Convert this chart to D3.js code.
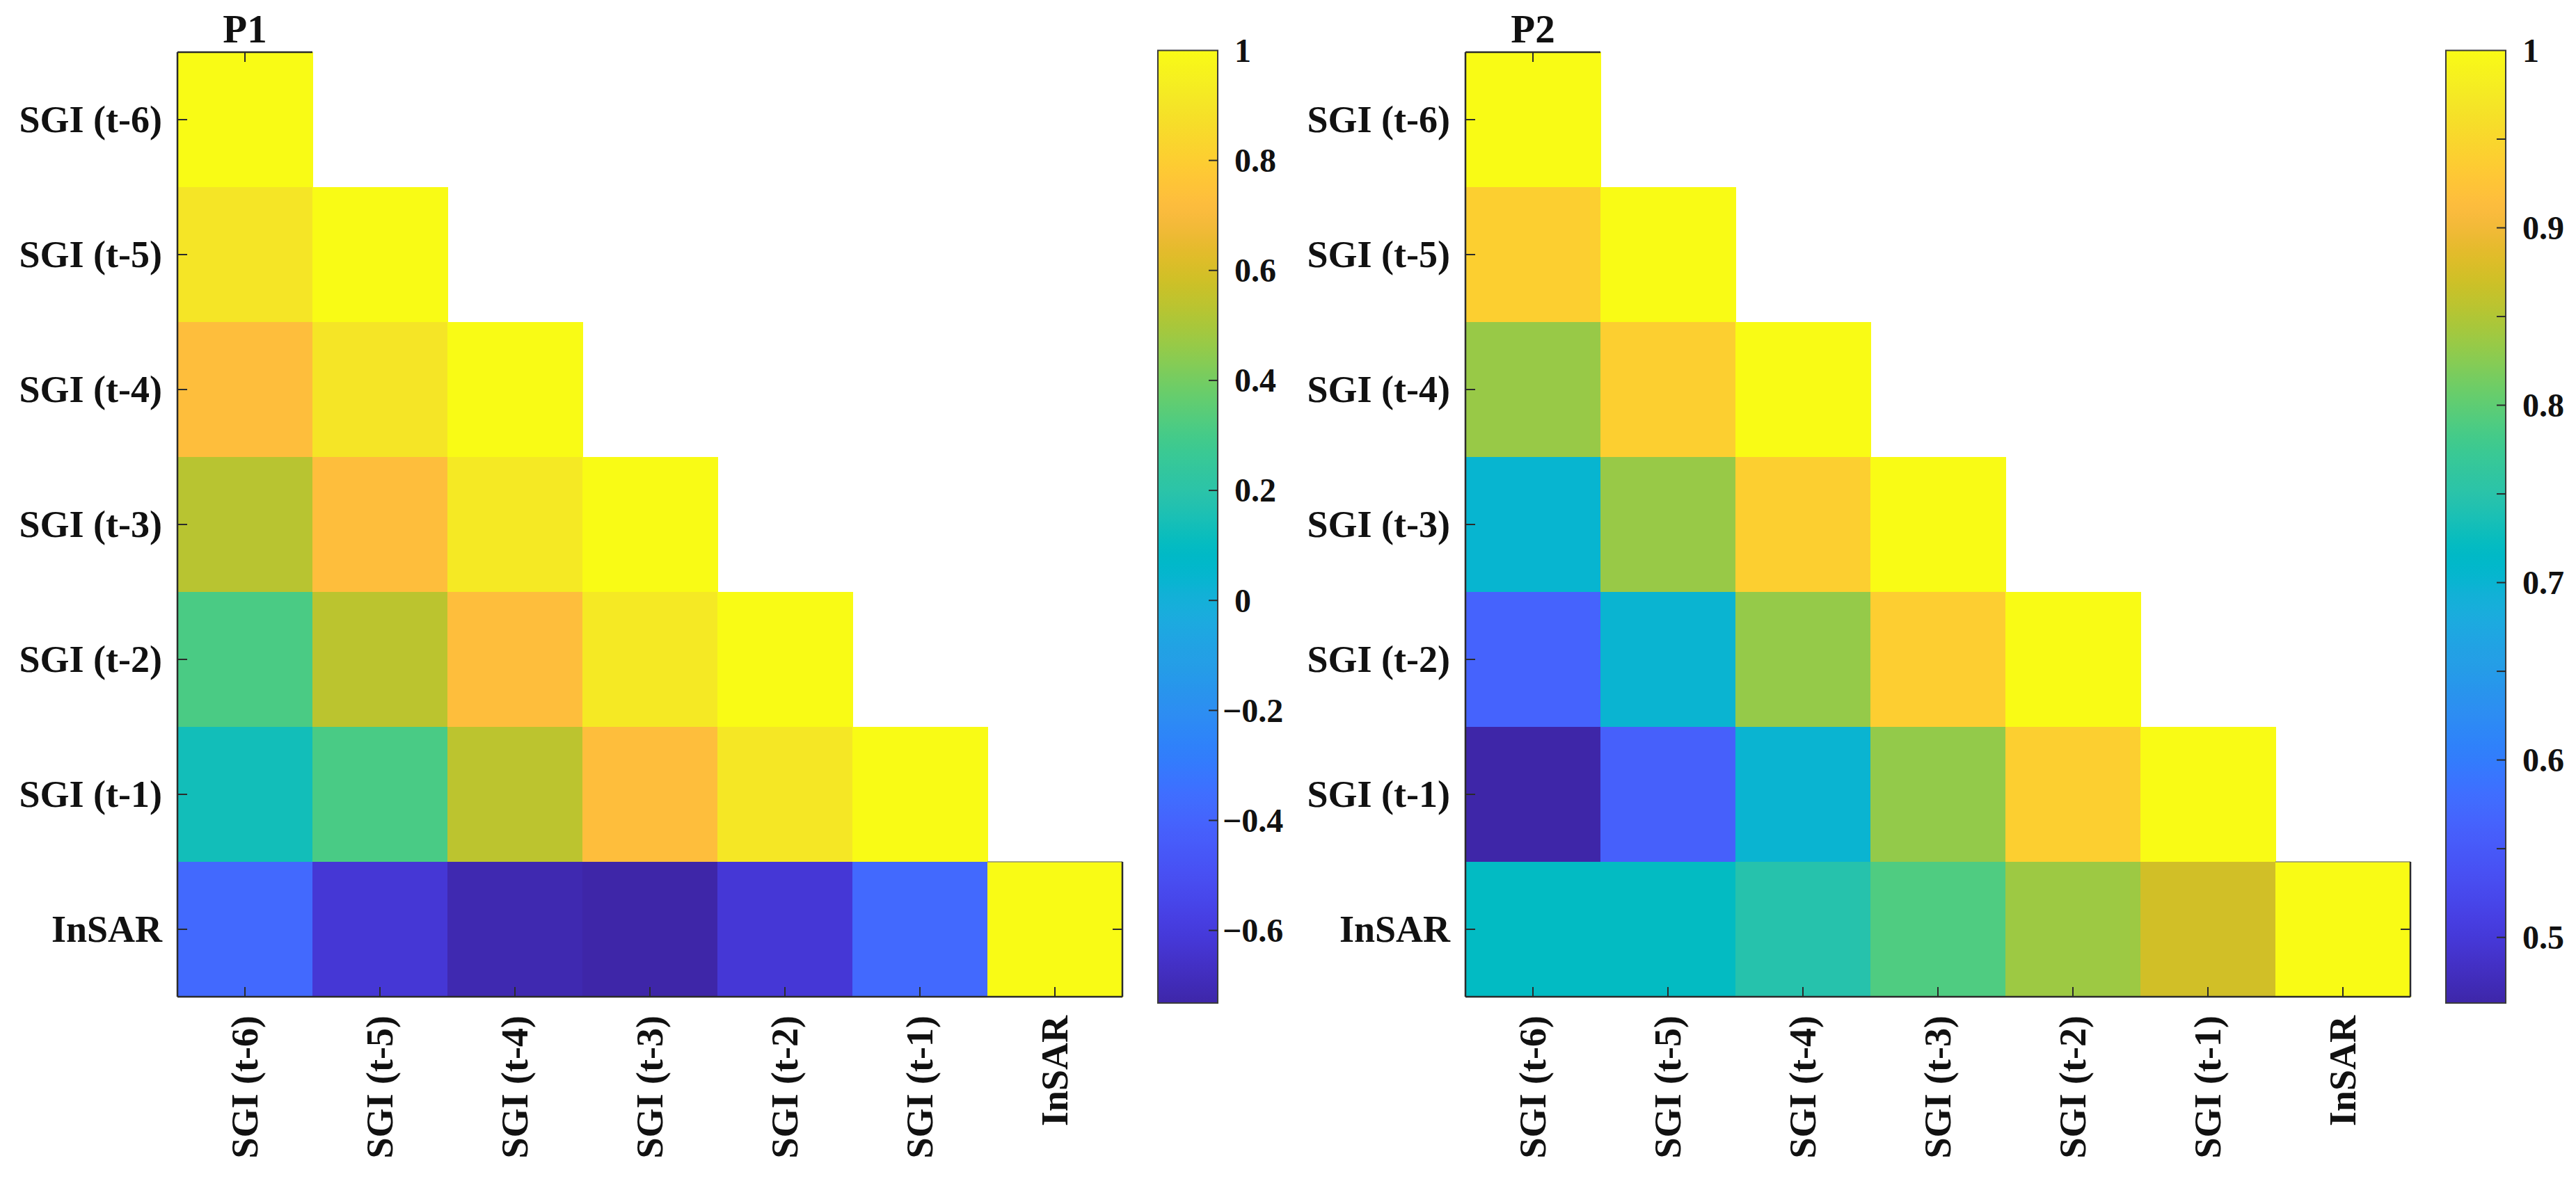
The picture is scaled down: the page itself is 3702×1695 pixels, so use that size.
<!DOCTYPE html>
<html>
<head>
<meta charset="utf-8">
<script src="https://cdn.jsdelivr.net/npm/d3@7"></script>
<style>
  html, body { margin: 0; padding: 0; background: #ffffff; }
  svg { display: block; }
  text { font-family: "Liberation Serif", "Times New Roman", serif; font-weight: bold; fill: #111; }
</style>
</head>
<body>
<svg id="chart" width="3702" height="1695"></svg>
<script>
// ---------------- data ----------------
const categories = ["SGI (t-6)", "SGI (t-5)", "SGI (t-4)", "SGI (t-3)", "SGI (t-2)", "SGI (t-1)", "InSAR"];

// lower-triangular correlation values (row i has i+1 entries)
const p1Values = [
  [1],
  [0.90, 1],
  [0.725, 0.90, 1],
  [0.532, 0.725, 0.917, 1],
  [0.313, 0.538, 0.725, 0.917, 1],
  [0.134, 0.31, 0.54, 0.725, 0.91, 1],
  [-0.375, -0.622, -0.715, -0.732, -0.62, -0.375, 1]
];
const p2Values = [
  [1],
  [0.94, 1],
  [0.835, 0.94, 1],
  [0.702, 0.835, 0.94, 1],
  [0.565, 0.70, 0.833, 0.938, 1],
  [0.463, 0.56, 0.70, 0.832, 0.94, 1],
  [0.719, 0.72, 0.747, 0.79, 0.838, 0.872, 1]
];

const p1Ticks = [1, 0.8, 0.6, 0.4, 0.2, 0, -0.2, -0.4, -0.6];
const p1TickLabels = ["1", "0.8", "0.6", "0.4", "0.2", "0", "\u22120.2", "\u22120.4", "\u22120.6"];
const p1MinorTicks = [];
const p2Ticks = [1, 0.9, 0.8, 0.7, 0.6, 0.5];
const p2TickLabels = ["1", "0.9", "0.8", "0.7", "0.6", "0.5"];
const p2MinorTicks = [0.95, 0.85, 0.75, 0.65, 0.55];

// MATLAB parula colormap (64 entries)
const parula = [
[0.2422,0.1504,0.6603],[0.2504,0.1650,0.7076],[0.2578,0.1818,0.7511],[0.2647,0.1978,0.7952],
[0.2706,0.2147,0.8364],[0.2751,0.2342,0.8710],[0.2783,0.2559,0.8991],[0.2803,0.2782,0.9221],
[0.2813,0.3006,0.9414],[0.2810,0.3228,0.9579],[0.2795,0.3447,0.9717],[0.2760,0.3667,0.9829],
[0.2699,0.3892,0.9906],[0.2602,0.4123,0.9952],[0.2440,0.4358,0.9988],[0.2206,0.4603,0.9973],
[0.1963,0.4847,0.9892],[0.1834,0.5074,0.9798],[0.1786,0.5289,0.9682],[0.1764,0.5499,0.9520],
[0.1687,0.5703,0.9359],[0.1540,0.5902,0.9218],[0.1460,0.6091,0.9079],[0.1380,0.6276,0.8973],
[0.1248,0.6459,0.8883],[0.1113,0.6635,0.8763],[0.0952,0.6798,0.8598],[0.0689,0.6948,0.8394],
[0.0297,0.7082,0.8163],[0.0036,0.7203,0.7917],[0.0067,0.7312,0.7660],[0.0433,0.7411,0.7394],
[0.0964,0.7500,0.7120],[0.1408,0.7584,0.6842],[0.1717,0.7670,0.6554],[0.1938,0.7758,0.6251],
[0.2161,0.7843,0.5923],[0.2470,0.7918,0.5567],[0.2906,0.7973,0.5188],[0.3406,0.8008,0.4789],
[0.3909,0.8029,0.4354],[0.4456,0.8024,0.3909],[0.5044,0.7993,0.3480],[0.5616,0.7942,0.3045],
[0.6174,0.7876,0.2612],[0.6720,0.7793,0.2227],[0.7242,0.7698,0.1910],[0.7738,0.7598,0.1646],
[0.8203,0.7498,0.1535],[0.8634,0.7406,0.1596],[0.9035,0.7330,0.1774],[0.9393,0.7288,0.2100],
[0.9728,0.7298,0.2394],[0.9956,0.7434,0.2371],[0.9970,0.7659,0.2199],[0.9952,0.7893,0.2028],
[0.9892,0.8136,0.1885],[0.9786,0.8386,0.1766],[0.9676,0.8639,0.1643],[0.9610,0.8890,0.1537],
[0.9597,0.9135,0.1423],[0.9628,0.9373,0.1265],[0.9691,0.9606,0.1064],[0.9769,0.9839,0.0805]
].map(c => d3.rgb(c[0] * 255, c[1] * 255, c[2] * 255));
const parulaInterp = d3.piecewise(d3.interpolateRgb, parula);

// ---------------- drawing ----------------
const svg = d3.select("#chart");
const axisColor = "#2b2b2b";
const defs = svg.append("defs");

function drawPanel(offsetX, title, values, ticks, tickLabels, minorTicks, id) {
  const g = svg.append("g").attr("transform", `translate(${offsetX},0)`);
  const x0 = 255, x1 = 1613, y0 = 75, y1 = 1433;
  const x = d3.scaleBand().domain(categories).range([x0, x1]);
  const y = d3.scaleBand().domain(categories).range([y0, y1]);
  const bw = x.bandwidth();

  const flat = values.flat();
  const vmin = d3.min(flat), vmax = d3.max(flat);
  const color = d3.scaleSequential(parulaInterp).domain([vmin, vmax]);

  const cells = [];
  values.forEach((row, i) => row.forEach((v, j) => cells.push({ r: categories[i], c: categories[j], v })));

  g.append("g").selectAll("rect").data(cells).join("rect")
    .attr("x", d => x(d.c))
    .attr("y", d => y(d.r))
    .attr("width", bw + 0.6)
    .attr("height", bw + 0.6)
    .attr("fill", d => color(d.v))
    .attr("shape-rendering", "crispEdges");

  // faint edge on top of last diagonal cell
  const last = categories[categories.length - 1];
  g.append("line")
    .attr("x1", x(last)).attr("x2", x1)
    .attr("y1", y(last)).attr("y2", y(last))
    .attr("stroke", "#8c8c70").attr("stroke-width", 1.5);

  // axis lines (only where not covered by the blank upper triangle)
  const first = categories[0];
  const ax = g.append("g").attr("stroke", axisColor).attr("fill", "none");
  ax.append("line").attr("x1", x0).attr("x2", x0).attr("y1", y0).attr("y2", y1).attr("stroke-width", 2.5);
  ax.append("line").attr("x1", x0).attr("x2", x1).attr("y1", y1).attr("y2", y1).attr("stroke-width", 2.5);
  ax.append("line").attr("x1", x0).attr("x2", x0 + bw).attr("y1", y0).attr("y2", y0).attr("stroke-width", 2.5);
  ax.append("line").attr("x1", x1).attr("x2", x1).attr("y1", y(last)).attr("y2", y1).attr("stroke-width", 2.5);

  const tl = 14;
  categories.forEach(cat => {
    const cy = y(cat) + bw / 2, cx = x(cat) + bw / 2;
    ax.append("line").attr("x1", x0).attr("x2", x0 + tl).attr("y1", cy).attr("y2", cy).attr("stroke-width", 2);
    ax.append("line").attr("x1", cx).attr("x2", cx).attr("y1", y1).attr("y2", y1 - tl).attr("stroke-width", 2);
  });
  ax.append("line").attr("x1", x(first) + bw / 2).attr("x2", x(first) + bw / 2)
    .attr("y1", y0).attr("y2", y0 + tl).attr("stroke-width", 2);
  ax.append("line").attr("x1", x1).attr("x2", x1 - tl)
    .attr("y1", y(last) + bw / 2).attr("y2", y(last) + bw / 2).attr("stroke-width", 2);

  // y tick labels
  g.append("g").selectAll("text").data(categories).join("text")
    .attr("x", x0 - 22)
    .attr("y", d => y(d) + bw / 2)
    .attr("dy", "0.34em")
    .attr("text-anchor", "end")
    .attr("font-size", 54)
    .text(d => d);

  // x tick labels (rotated)
  g.append("g").selectAll("text").data(categories).join("text")
    .attr("transform", d => `translate(${x(d) + bw / 2},${y1 + 27}) rotate(-90)`)
    .attr("dy", "0.34em")
    .attr("text-anchor", "end")
    .attr("font-size", 54)
    .text(d => d);

  // title
  g.append("text")
    .attr("x", x(first) + bw / 2)
    .attr("y", 61)
    .attr("text-anchor", "middle")
    .attr("font-size", 57)
    .text(title);

  // colorbar
  const cbx0 = 1664, cbx1 = 1750, cby0 = 72.5, cby1 = 1442;
  const cbScale = d3.scaleLinear().domain([vmin, vmax]).range([cby1, cby0]);
  const grad = defs.append("linearGradient").attr("id", id)
    .attr("x1", 0).attr("y1", 1).attr("x2", 0).attr("y2", 0);
  d3.range(0, 101).forEach(k => {
    const t = k / 100;
    grad.append("stop").attr("offset", t).attr("stop-color", color(vmin + t * (vmax - vmin)));
  });
  g.append("rect")
    .attr("x", cbx0).attr("y", cby0)
    .attr("width", cbx1 - cbx0).attr("height", cby1 - cby0)
    .attr("fill", `url(#${id})`)
    .attr("stroke", "#3a3a3a").attr("stroke-width", 2);

  const ctl = 13;
  g.append("g").selectAll("line.major").data(ticks.filter(t => t < vmax)).join("line")
    .attr("x1", cbx1).attr("x2", cbx1 - ctl)
    .attr("y1", d => cbScale(d)).attr("y2", d => cbScale(d))
    .attr("stroke", axisColor).attr("stroke-width", 2);
  g.append("g").selectAll("line.minor").data(minorTicks).join("line")
    .attr("x1", cbx1).attr("x2", cbx1 - ctl)
    .attr("y1", d => cbScale(d)).attr("y2", d => cbScale(d))
    .attr("stroke", axisColor).attr("stroke-width", 2);

  g.append("g").selectAll("text").data(ticks).join("text")
    .attr("x", d => d < 0 ? cbx1 + 7 : cbx1 + 24)
    .attr("y", d => cbScale(d))
    .attr("dy", "0.34em")
    .attr("text-anchor", "start")
    .attr("font-size", 48)
    .text((d, i) => tickLabels[i]);
}

drawPanel(0, "P1", p1Values, p1Ticks, p1TickLabels, p1MinorTicks, "cb1");
drawPanel(1851, "P2", p2Values, p2Ticks, p2TickLabels, p2MinorTicks, "cb2");
</script>
</body>
</html>
